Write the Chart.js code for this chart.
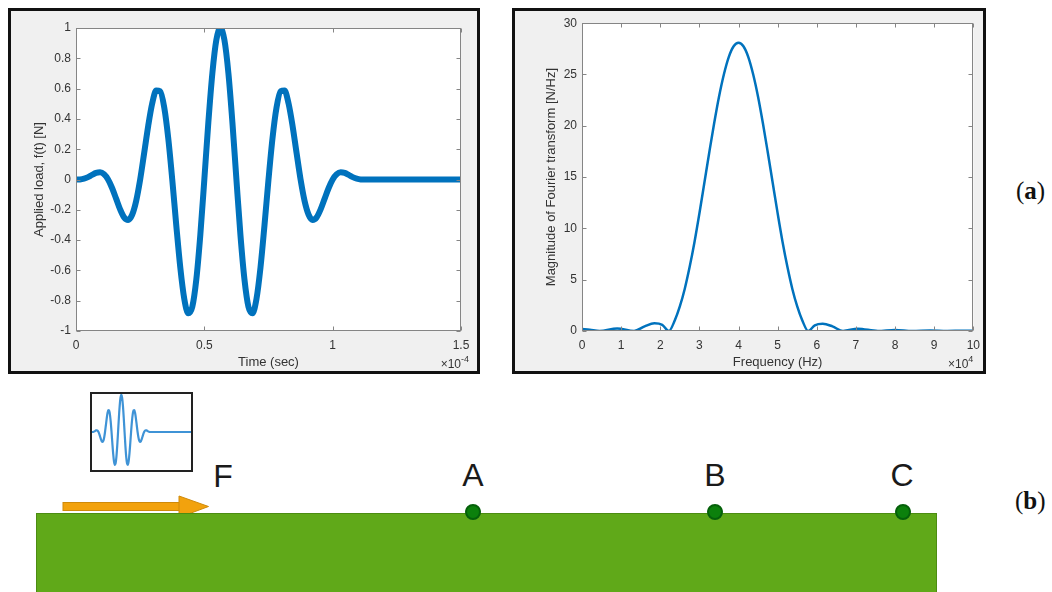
<!DOCTYPE html>
<html>
<head>
<meta charset="utf-8">
<script src="https://cdn.jsdelivr.net/npm/chart.js@4.4.1/dist/chart.umd.min.js"></script>
<style>
  html, body { margin: 0; padding: 0; background: #ffffff; }
  body { width: 1052px; height: 592px; position: relative; overflow: hidden; font-family: "Liberation Sans", Arial, sans-serif; }
  .frame { position: absolute; box-sizing: border-box; border: 3px solid #111; background: #f0f0f0; }
  .abs { position: absolute; }
  .ground { position: absolute; left: 36px; top: 513px; width: 901px; height: 80px; box-sizing: border-box; background: #60a919; border: 1px solid #4c8c12; }
  .dot { position: absolute; top: 504px; width: 16px; height: 16px; margin-left: -8px; box-sizing: border-box; border-radius: 50%; background: #0c800c; border: 2px solid #05600a; }
  .lbl { position: absolute; font-size: 32px; line-height: 32px; color: #1a1a1a; transform: translateX(-50%); }
  .tag { position: absolute; font-family: "Liberation Serif", "DejaVu Serif", serif; font-size: 25px; line-height: 25px; color: #111; }
  .inset { position: absolute; left: 90px; top: 392px; width: 103px; height: 80px; box-sizing: border-box; border: 2px solid #222; background: #fff; }
</style>
</head>
<body>

<div class="frame" style="left:8px; top:8px; width:472px; height:366px;"></div>
<div class="frame" style="left:512px; top:8px; width:474px; height:366px;"></div>
<canvas id="loadChart" class="abs" style="left:11px; top:11px;" width="466" height="360"></canvas>
<canvas id="fftChart" class="abs" style="left:515px; top:11px;" width="472" height="360"></canvas>

<div class="tag" style="left:1016px; top:178px;">(<b>a</b>)</div>
<div class="tag" style="left:1015px; top:488px;">(<b>b</b>)</div>

<div class="inset"></div>
<canvas id="insetChart" class="abs" style="left:92px; top:394px;" width="99" height="76"></canvas>

<div class="lbl" style="left:223px; top:460px;">F</div>
<div class="lbl" style="left:473px; top:459px;">A</div>
<div class="lbl" style="left:715px; top:459px;">B</div>
<div class="lbl" style="left:902px; top:459px;">C</div>

<svg class="abs" style="left:60px; top:493px;" width="152" height="28">
  <rect x="3" y="9.5" width="117" height="8" fill="#f2a20d" stroke="#cf8a0a" stroke-width="1"/>
  <polygon points="119,3 148.5,13.5 119,24.5" fill="#f2a20d" stroke="#cf8a0a" stroke-width="1"/>
</svg>

<div class="ground"></div>
<div class="dot" style="left:473px;"></div>
<div class="dot" style="left:715px;"></div>
<div class="dot" style="left:903px;"></div>

<script>
// applied load, time in units of 1e-4 s
const timeE4 = [0, 0.0156, 0.0313, 0.0469, 0.0625, 0.0781, 0.0938, 0.1094, 0.125, 0.1406,
  0.1563, 0.1719, 0.1875, 0.2031, 0.2188, 0.2344, 0.25, 0.2656, 0.2813, 0.2969,
  0.3125, 0.3281, 0.3438, 0.3594, 0.375, 0.3906, 0.4063, 0.4219, 0.4375, 0.4531,
  0.4688, 0.4844, 0.5, 0.5156, 0.5313, 0.5469, 0.5625, 0.5781, 0.5938, 0.6094,
  0.625, 0.6406, 0.6563, 0.6719, 0.6875, 0.7031, 0.7188, 0.7344, 0.75, 0.7656,
  0.7813, 0.7969, 0.8125, 0.8281, 0.8438, 0.8594, 0.875, 0.8906, 0.9063, 0.9219,
  0.9375, 0.9531, 0.9688, 0.9844, 1.0, 1.0156, 1.0313, 1.0469, 1.0625, 1.0781,
  1.0938, 1.1094, 1.125, 1.5];
const loadN = [0, 0.0007, 0.0054, 0.0157, 0.0302, 0.0432, 0.0474, 0.0346, 0, -0.056,
  -0.1263, -0.197, -0.25, -0.2667, -0.2326, -0.1418, 0, 0.1747, 0.3536, 0.5022,
  0.5868, 0.5815, 0.4745, 0.2722, 0, -0.3011, -0.5808, -0.7886, -0.883, -0.8404,
  -0.6597, -0.3648, 0, 0.3762, 0.7017, 0.9221, 1, 0.9221, 0.7017, 0.3762,
  0, -0.3648, -0.6597, -0.8404, -0.883, -0.7886, -0.5808, -0.3011, 0, 0.2722,
  0.4745, 0.5815, 0.5868, 0.5022, 0.3536, 0.1747, 0, -0.1418, -0.2326, -0.2667,
  -0.25, -0.197, -0.1263, -0.056, 0, 0.0346, 0.0474, 0.0432, 0.0302, 0.0157,
  0.0054, 0.0007, 0, 0];
// the sketch inset shows a longer flat tail
const insetTailTime = [2.0];
const insetTailLoad = [0];

// fourier magnitude, frequency in units of 1e4 Hz
const freqE4 = [0, 0.2, 0.45, 0.9, 1.33, 1.6, 1.85, 2.05, 2.22, 2.375,
  2.5, 2.625, 2.75, 2.875, 3.0, 3.125, 3.25, 3.375, 3.5, 3.625,
  3.75, 3.875, 4.0, 4.125, 4.25, 4.375, 4.5, 4.625, 4.75, 4.875,
  5.0, 5.125, 5.25, 5.375, 5.5, 5.625, 5.78, 5.95, 6.15, 6.4,
  6.67, 7.05, 7.56, 8.0, 8.44, 8.9, 9.33, 9.75, 10];
const magnitude = [0.2, 0.12, 0, 0.25, 0, 0.45, 0.75, 0.6, 0, 1.07,
  2.39, 4.1, 6.23, 8.68, 11.46, 14.4, 17.35, 20.2, 22.81, 25.0,
  26.7, 27.75, 28.1, 27.75, 26.7, 25.0, 22.81, 20.2, 17.35, 14.4,
  11.46, 8.68, 6.23, 4.1, 2.39, 1.07, 0, 0.55, 0.7, 0.45,
  0, 0.23, 0, 0.1, 0, 0.06, 0, 0.03, 0.02];

const timeTicks = [0, 0.5, 1, 1.5];
const loadTicks = [-1, -0.8, -0.6, -0.4, -0.2, 0, 0.2, 0.4, 0.6, 0.8, 1];
const freqTicks = [0, 1, 2, 3, 4, 5, 6, 7, 8, 9, 10];
const magTicks = [0, 5, 10, 15, 20, 25, 30];

const FONT = '"Liberation Sans", Arial, sans-serif';
const TEXT = '#333333';
const BLUE = '#0072bd';

// white plot area, grey box with inward ticks, and the x10^n label
const matlabAxes = {
    id: 'matlabAxes',
    beforeDraw(chart) {
        const a = chart.chartArea;
        const ctx = chart.ctx;
        ctx.save();
        ctx.fillStyle = '#ffffff';
        ctx.fillRect(a.left, a.top, a.right - a.left, a.bottom - a.top);
        ctx.restore();
    },
    afterDraw(chart, args, opts) {
        if (!opts.exponent) return;
        const a = chart.chartArea;
        const ctx = chart.ctx;
        const x = chart.scales.x, y = chart.scales.y;
        const L = Math.round(a.left) + 0.5, R = Math.round(a.right) - 0.5;
        const T = Math.round(a.top) + 0.5, B = Math.round(a.bottom) - 0.5;
        ctx.save();
        ctx.strokeStyle = '#858585';
        ctx.lineWidth = 1;
        ctx.strokeRect(L, T, R - L, B - T);
        ctx.beginPath();
        x.ticks.forEach(t => {
            const px = Math.round(x.getPixelForValue(t.value)) + 0.5;
            ctx.moveTo(px, B); ctx.lineTo(px, B - 4);
            ctx.moveTo(px, T); ctx.lineTo(px, T + 4);
        });
        y.ticks.forEach(t => {
            const py = Math.round(y.getPixelForValue(t.value)) + 0.5;
            ctx.moveTo(L, py); ctx.lineTo(L + 4, py);
            ctx.moveTo(R, py); ctx.lineTo(R - 4, py);
        });
        ctx.stroke();

        // x10^n
        const right = a.right + (opts.shift || 0);
        const base = a.bottom + 37;
        ctx.fillStyle = TEXT;
        ctx.textBaseline = 'alphabetic';
        ctx.textAlign = 'left';
        ctx.font = '9px ' + FONT;
        const supW = ctx.measureText(opts.exponent).width;
        ctx.font = '12px ' + FONT;
        const tenW = ctx.measureText('10').width;
        const xW = ctx.measureText('\u00d7').width;
        let px = right - supW - tenW - xW;
        ctx.fillText('\u00d7', px, base);
        ctx.fillText('10', px + xW, base);
        ctx.font = '9px ' + FONT;
        ctx.fillText(opts.exponent, px + xW + tenW, base - 6);
        ctx.restore();
    }
};

function axisOptions(opts) {
    return {
        x: {
            type: 'linear', min: opts.xMin, max: opts.xMax,
            afterBuildTicks: s => { s.ticks = opts.xTicks.map(v => ({ value: v })); },
            afterFit: s => { s.height = opts.xHeight; },
            grid: { display: false, drawTicks: false },
            border: { display: false },
            ticks: { padding: 7, maxRotation: 0, autoSkip: false, color: TEXT, font: { family: FONT, size: 12 }, callback: v => String(v) },
            title: { display: true, text: opts.xTitle, color: TEXT, font: { family: FONT, size: 13 }, padding: { top: 0, bottom: 1 } }
        },
        y: {
            type: 'linear', min: opts.yMin, max: opts.yMax,
            afterBuildTicks: s => { s.ticks = opts.yTicks.map(v => ({ value: v })); },
            afterFit: s => { s.width = opts.yWidth; },
            grid: { display: false, drawTicks: false },
            border: { display: false },
            ticks: { padding: 5, autoSkip: false, color: TEXT, font: { family: FONT, size: 12 }, callback: v => String(v) },
            title: { display: true, text: opts.yTitle, color: TEXT, font: { family: FONT, size: 13 }, padding: { top: opts.yTitlePad, bottom: 0 } }
        }
    };
}

const pairs = (xs, ys) => xs.map((v, i) => ({ x: v, y: ys[i] }));

new Chart(document.getElementById('loadChart'), {
    type: 'line',
    data: {
        datasets: [{
            data: pairs(timeE4, loadN),
            borderColor: BLUE,
            borderWidth: 6,
            pointRadius: 0,
            cubicInterpolationMode: 'monotone'
        }]
    },
    options: {
        responsive: false, animation: false, events: [],
        layout: { padding: { left: 0, top: 17, right: 16, bottom: 0 } },
        plugins: { legend: { display: false }, tooltip: { enabled: false }, matlabAxes: { exponent: '-4', shift: 8 } },
        scales: axisOptions({
            xMin: 0, xMax: 1.5, xTicks: timeTicks, xTitle: 'Time (sec)', xHeight: 40,
            yMin: -1, yMax: 1, yTicks: loadTicks, yTitle: 'Applied load, f(t) [N]', yWidth: 65, yTitlePad: 21
        })
    },
    plugins: [matlabAxes]
});

new Chart(document.getElementById('fftChart'), {
    type: 'line',
    data: {
        datasets: [{
            data: pairs(freqE4, magnitude),
            borderColor: BLUE,
            borderWidth: 2.5,
            pointRadius: 0,
            cubicInterpolationMode: 'monotone'
        }]
    },
    options: {
        responsive: false, animation: false, events: [],
        layout: { padding: { left: 0, top: 12, right: 12, bottom: 0 } },
        plugins: { legend: { display: false }, tooltip: { enabled: false }, matlabAxes: { exponent: '4', shift: 0 } },
        scales: axisOptions({
            xMin: 0, xMax: 10, xTicks: freqTicks, xTitle: 'Frequency (Hz)', xHeight: 40,
            yMin: 0, yMax: 30, yTicks: magTicks, yTitle: 'Magnitude of Fourier transform [N/Hz]', yWidth: 67, yTitlePad: 29
        })
    },
    plugins: [matlabAxes]
});

// small copy of the load signal in the sketch
new Chart(document.getElementById('insetChart'), {
    type: 'line',
    data: {
        datasets: [{
            data: pairs(timeE4.concat(insetTailTime), loadN.concat(insetTailLoad)),
            borderColor: '#3f93d6',
            borderWidth: 2.2,
            pointRadius: 0,
            cubicInterpolationMode: 'monotone',
            clip: false
        }]
    },
    options: {
        responsive: false, animation: false, events: [],
        layout: { padding: 0 },
        plugins: { legend: { display: false }, tooltip: { enabled: false } },
        scales: {
            x: { type: 'linear', display: false, min: 0, max: 1.9 },
            y: { type: 'linear', display: false, min: -1.02, max: 1.02 }
        }
    }
});
</script>
</body>
</html>
